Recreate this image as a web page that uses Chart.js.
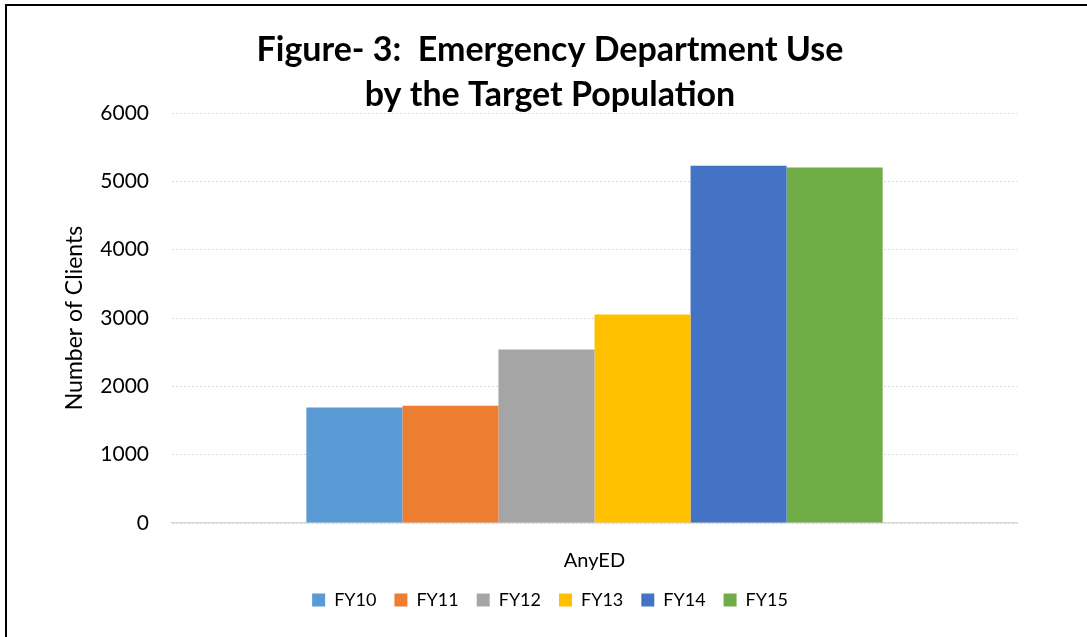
<!DOCTYPE html>
<html>
<head>
<meta charset="utf-8">
<script src="https://cdn.jsdelivr.net/npm/chart.js@4/dist/chart.umd.min.js"></script>
<style>
  html, body { margin: 0; padding: 0; background: #fff; }
  #wrap { position: relative; width: 1087px; height: 637px; overflow: hidden; }
  #frame { position: absolute; left: 5px; top: 4px; width: 1200px; height: 800px;
           border-left: 2.5px solid #000; border-top: 2.5px solid #000; pointer-events: none; }
  canvas { display: block; }
</style>
</head>
<body>
<div id="wrap">
  <canvas id="c" width="1087" height="637"></canvas>
  <div id="frame"></div>
</div>
<script>
const categories = ["AnyED"];
const seriesNames = ["FY10", "FY11", "FY12", "FY13", "FY14", "FY15"];
const seriesValues = [[1690], [1718], [2540], [3052], [5230], [5202]];
const seriesColors = ["#5B9BD5", "#ED7D31", "#A5A5A5", "#FFC000", "#4472C4", "#70AD47"];
const yTicks = [0, 1000, 2000, 3000, 4000, 5000, 6000];
const titleLines = ["Figure- 3:  Emergency Department Use", "by the Target Population"];
const yAxisTitle = "Number of Clients";

const FONT = "Lato, 'Open Sans', sans-serif";

new Chart(document.getElementById('c'), {
  type: 'bar',
  data: {
    labels: categories,
    datasets: seriesNames.map((n, i) => ({
      label: n,
      data: seriesValues[i],
      backgroundColor: seriesColors[i],
      borderWidth: 0,
      barPercentage: 1.0,
      categoryPercentage: 0.682
    }))
  },
  options: {
    responsive: false,
    animation: false,
    devicePixelRatio: 1,
    layout: { padding: { left: 13, right: 0, top: 0, bottom: 18 } },
    plugins: {
      title: {
        display: true,
        text: titleLines[0],
        color: '#000',
        font: { family: FONT, size: 34, weight: 'bold', lineHeight: 1.06 },
        padding: { top: 32, bottom: 5 }
      },
      subtitle: {
        display: true,
        text: titleLines[1],
        color: '#000',
        font: { family: FONT, size: 34, weight: 'bold', lineHeight: 1.06 },
        padding: { top: 4, bottom: 0 }
      },
      legend: {
        position: 'bottom',
        labels: {
          boxWidth: 13, boxHeight: 13, padding: 18,
          color: '#000',
          font: { family: FONT, size: 18 }
        }
      },
      tooltip: { enabled: false }
    },
    scales: {
      x: {
        grid: { display: false },
        border: { display: true, color: '#d9d9d9', width: 1.5 },
        ticks: { color: '#000', padding: 18, font: { family: FONT, size: 20 } },
        afterFit: (s) => { s.height = 50; }
      },
      y: {
        min: yTicks[0],
        max: yTicks[yTicks.length - 1],
        afterBuildTicks: (s) => { s.ticks = yTicks.map(v => ({ value: v })); },
        grid: {
          color: '#d9d9d9', lineWidth: 1, drawTicks: false
        },
        border: { display: false, dash: [2, 2] },
        ticks: {
          color: '#000', padding: 23, font: { family: FONT, size: 21 },
          callback: (v) => String(v)
        },
        title: {
          display: true, text: yAxisTitle, color: '#000',
          font: { family: FONT, size: 23, lineHeight: 1.2 },
          padding: { top: 48, bottom: 0 }
        },
        afterFit: (s) => { s.width = 159; }
      },
      yRight: {
        position: 'right',
        display: true,
        grid: { display: false, drawTicks: false },
        border: { display: false },
        ticks: { display: false },
        afterFit: (s) => { s.width = 70; }
      }
    }
  }
});
</script>
</body>
</html>
